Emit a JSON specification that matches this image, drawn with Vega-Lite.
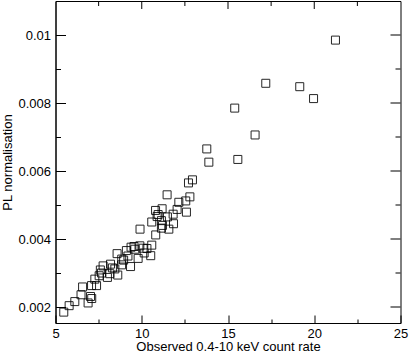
{
  "$schema": "https://vega.github.io/schema/vega-lite/v6.json",
  "width": 345,
  "height": 322,
  "autosize": "none",
  "padding": {"left": 55.5, "top": 1, "right": 8.5, "bottom": 31},
  "background": "white",
  "config": {
    "view": {"stroke": "black", "strokeWidth": 1},
    "axis": {
      "labelFont": "Liberation Sans",
      "titleFont": "Liberation Sans",
      "labelFontSize": 13,
      "titleFontSize": 13,
      "titleFontWeight": "normal",
      "labelColor": "black",
      "titleColor": "black",
      "domainColor": "black",
      "tickColor": "black",
      "domainWidth": 1,
      "tickWidth": 1,
      "grid": false
    }
  },
  "datasets": {
    "obs": [
      {"rate": 21.23, "norm": 0.00985},
      {"rate": 17.19, "norm": 0.00858},
      {"rate": 19.16, "norm": 0.00848},
      {"rate": 19.96, "norm": 0.00813},
      {"rate": 15.39, "norm": 0.00785},
      {"rate": 16.57, "norm": 0.00706},
      {"rate": 13.77, "norm": 0.00665},
      {"rate": 13.89, "norm": 0.00626},
      {"rate": 15.57, "norm": 0.00634},
      {"rate": 12.94, "norm": 0.00574},
      {"rate": 12.71, "norm": 0.00565},
      {"rate": 11.47, "norm": 0.0053},
      {"rate": 12.79, "norm": 0.00524},
      {"rate": 12.55, "norm": 0.00512},
      {"rate": 12.15, "norm": 0.00508},
      {"rate": 12.59, "norm": 0.00479},
      {"rate": 12.05, "norm": 0.00487},
      {"rate": 11.18, "norm": 0.00489},
      {"rate": 10.8, "norm": 0.00484},
      {"rate": 10.89, "norm": 0.00466},
      {"rate": 11.49, "norm": 0.00465},
      {"rate": 11.82, "norm": 0.00473},
      {"rate": 10.58, "norm": 0.0045},
      {"rate": 11.14, "norm": 0.00454},
      {"rate": 11.84, "norm": 0.00445},
      {"rate": 11.57, "norm": 0.00429},
      {"rate": 11.14, "norm": 0.00432},
      {"rate": 10.81, "norm": 0.00412},
      {"rate": 9.9, "norm": 0.00429},
      {"rate": 10.58, "norm": 0.00382},
      {"rate": 10.52, "norm": 0.00351},
      {"rate": 10.08, "norm": 0.00373},
      {"rate": 10.14, "norm": 0.00359},
      {"rate": 9.89, "norm": 0.0038},
      {"rate": 9.79, "norm": 0.00343},
      {"rate": 9.38, "norm": 0.00376},
      {"rate": 9.35, "norm": 0.00319},
      {"rate": 9.11, "norm": 0.00366},
      {"rate": 8.83, "norm": 0.00324},
      {"rate": 8.84, "norm": 0.00341},
      {"rate": 8.57, "norm": 0.00357},
      {"rate": 8.61, "norm": 0.00294},
      {"rate": 8.19, "norm": 0.00326},
      {"rate": 8.15, "norm": 0.00298},
      {"rate": 8.44, "norm": 0.00312},
      {"rate": 7.67, "norm": 0.003},
      {"rate": 8.01, "norm": 0.00287},
      {"rate": 7.76, "norm": 0.00321},
      {"rate": 7.53, "norm": 0.00292},
      {"rate": 7.38, "norm": 0.00263},
      {"rate": 7.28, "norm": 0.00282},
      {"rate": 7.09, "norm": 0.00263},
      {"rate": 6.57, "norm": 0.00259},
      {"rate": 6.48, "norm": 0.00236},
      {"rate": 6.89, "norm": 0.00212},
      {"rate": 7.1, "norm": 0.00225},
      {"rate": 7.03, "norm": 0.00231},
      {"rate": 6.12, "norm": 0.00216},
      {"rate": 5.79, "norm": 0.00204},
      {"rate": 5.48, "norm": 0.00185},
      {"rate": 7.6, "norm": 0.00309},
      {"rate": 8.3, "norm": 0.00315},
      {"rate": 8.95, "norm": 0.00338},
      {"rate": 9.2, "norm": 0.0035},
      {"rate": 9.6, "norm": 0.0037},
      {"rate": 10.3, "norm": 0.00372},
      {"rate": 9.55, "norm": 0.00378},
      {"rate": 10.95, "norm": 0.00472},
      {"rate": 11.2, "norm": 0.0044}
    ],
    "xticks": [
      {"v": 7.5, "k": "minor"},
      {"v": 10, "k": "major"},
      {"v": 12.5, "k": "minor"},
      {"v": 15, "k": "major"},
      {"v": 17.5, "k": "minor"},
      {"v": 20, "k": "major"},
      {"v": 22.5, "k": "minor"}
    ],
    "yticks": [
      {"v": 0.002, "k": "major"},
      {"v": 0.003, "k": "minor"},
      {"v": 0.004, "k": "major"},
      {"v": 0.005, "k": "minor"},
      {"v": 0.006, "k": "major"},
      {"v": 0.007, "k": "minor"},
      {"v": 0.008, "k": "major"},
      {"v": 0.009, "k": "minor"},
      {"v": 0.01, "k": "major"}
    ]
  },
  "layer": [
    {
      "data": {"name": "obs"},
      "mark": {"type": "point", "shape": "square", "filled": false, "size": 64, "color": "black", "strokeWidth": 1, "opacity": 0.85},
      "encoding": {
        "x": {
          "field": "rate", "type": "quantitative",
          "scale": {"domain": [5, 25], "nice": false, "zero": false},
          "axis": {
            "orient": "bottom",
            "title": "Observed 0.4-10 keV count rate",
            "values": [5, 7.5, 10, 12.5, 15, 17.5, 20, 22.5, 25],
            "tickSize": {"condition": {"test": "datum.value % 5 === 0", "value": -8}, "value": -4},
            "labelExpr": "datum.value % 5 === 0 ? datum.label : ''",
            "labelPadding": 12,
            "titlePadding": -4,
            "labelFlush": false,
            "labelOverlap": false
          }
        },
        "y": {
          "field": "norm", "type": "quantitative",
          "scale": {"domain": [0.00153, 0.011], "nice": false, "zero": false},
          "axis": {
            "orient": "left",
            "title": "PL normalisation",
            "values": [0.002, 0.003, 0.004, 0.005, 0.006, 0.007, 0.008, 0.009, 0.01],
            "tickSize": {"condition": {"test": "abs(round(datum.value*1000) % 2) < 0.5", "value": -10}, "value": -5},
            "labelExpr": "abs(round(datum.value*1000) % 2) < 0.5 ? '' + round(datum.value*1000)/1000 : ''",
            "labelPadding": 15,
            "titlePadding": 3,
            "labelFlush": false,
            "labelOverlap": false
          }
        }
      }
    },
    {
      "data": {"name": "xticks"},
      "mark": {"type": "tick", "orient": "vertical", "color": "black", "thickness": 1, "opacity": 1, "clip": true},
      "encoding": {
        "x": {"field": "v", "type": "quantitative"},
        "y": {"datum": 0.011, "type": "quantitative"},
        "size": {"field": "k", "type": "nominal", "scale": {"domain": ["major", "minor"], "range": [16, 10]}, "legend": null}
      }
    },
    {
      "data": {"name": "yticks"},
      "mark": {"type": "tick", "orient": "horizontal", "color": "black", "thickness": 1, "opacity": 1, "clip": true},
      "encoding": {
        "y": {"field": "v", "type": "quantitative"},
        "x": {"datum": 25, "type": "quantitative"},
        "size": {"field": "k", "type": "nominal", "scale": {"domain": ["major", "minor"], "range": [20, 10]}, "legend": null}
      }
    }
  ],
  "resolve": {"scale": {"size": "independent"}}
}
